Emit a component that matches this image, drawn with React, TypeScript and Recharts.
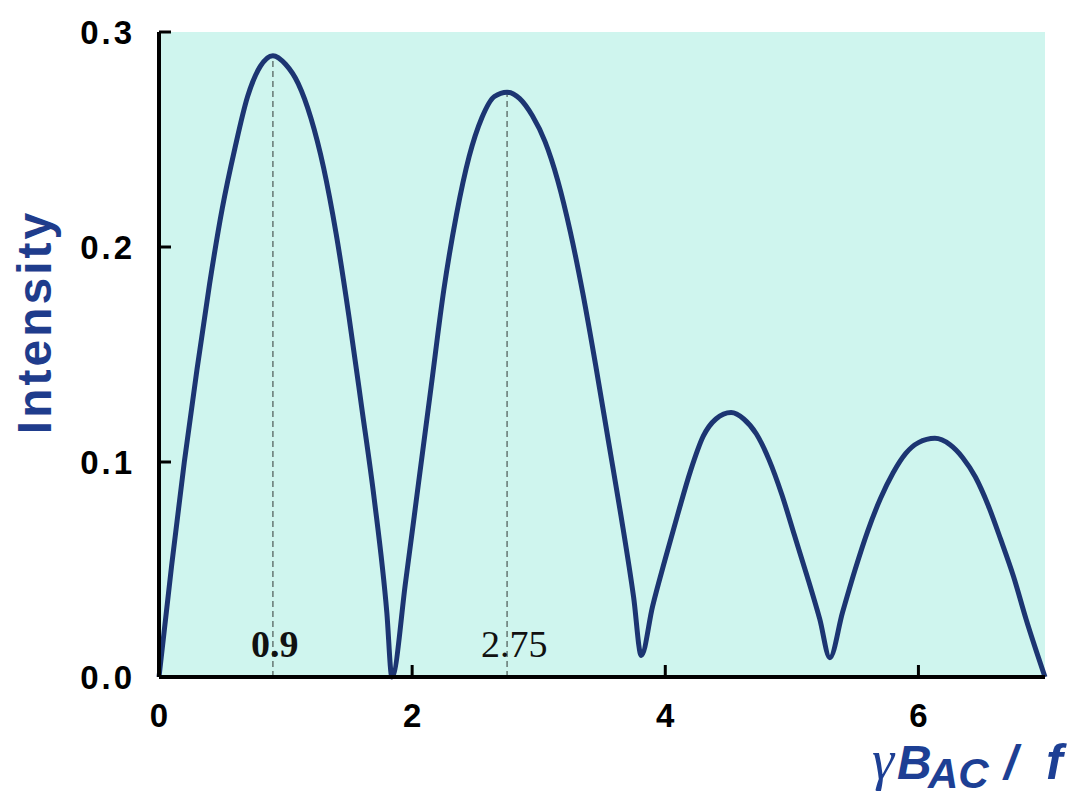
import { LineChart, Line, XAxis, YAxis, CartesianGrid, ReferenceLine, Label } from 'recharts';

// intensity vs. normalised drive amplitude
const fieldValues = [
  0, 0.1, 0.2, 0.3, 0.4, 0.5, 0.6, 0.7, 0.8, 0.9, 1.0, 1.1, 1.2, 1.3, 1.4, 1.5, 1.6, 1.7, 1.8, 1.84,
  1.95, 2.05, 2.15, 2.25, 2.35, 2.45, 2.55, 2.65, 2.75, 2.85, 2.95, 3.05, 3.15, 3.25, 3.35, 3.45, 3.55, 3.65, 3.75, 3.81,
  3.9, 4.0, 4.1, 4.2, 4.3, 4.4, 4.52, 4.62, 4.72, 4.82, 4.92, 5.02, 5.12, 5.22, 5.3,
  5.4, 5.5, 5.6, 5.7, 5.8, 5.9, 6.0, 6.13, 6.25, 6.35, 6.45, 6.55, 6.65, 6.75, 6.85, 7.0,
];
const intensityValues = [
  0, 0.052, 0.1, 0.143, 0.183, 0.218, 0.246, 0.27, 0.284, 0.289, 0.285, 0.276, 0.26, 0.237, 0.206, 0.168, 0.126, 0.083, 0.03, 0.0,
  0.045, 0.09, 0.135, 0.18, 0.215, 0.242, 0.26, 0.27, 0.272, 0.269, 0.261, 0.249, 0.231, 0.207, 0.178, 0.145, 0.11, 0.075, 0.037, 0.01,
  0.033, 0.055, 0.076, 0.096, 0.112, 0.12, 0.123, 0.12, 0.113, 0.101, 0.085, 0.066, 0.047, 0.027, 0.009,
  0.03, 0.05, 0.068, 0.083, 0.095, 0.104, 0.109, 0.111, 0.108, 0.102, 0.093, 0.08, 0.064, 0.047, 0.027, 0.0,
];

const xTicks = [0, 2, 4, 6];
const yTicks = [0, 0.1, 0.2, 0.3];

// marked maxima
const peakPositions = [0.9, 2.75];
const peakHeights = [0.289, 0.272];
const peakLabels = ['0.9', '2.75'];
const peakLabelWeights = ['bold', 'normal'];
const peakLabelOffsets = [22, 26];

const data = fieldValues.map((x, i) => ({ x, y: intensityValues[i] }));

const LINE = '#1c3572';
const TITLE = '#1f3c8c';
const BG = '#cff5ee';
const SANS = '"Liberation Sans", Arial, sans-serif';
const SERIF = '"Liberation Serif", "Times New Roman", serif';

const TICK_GAP = 24;
const TICK_LEN = 12;

const YTick = (props: any) => {
  const { x, y, payload } = props;
  const ax = x + TICK_GAP;
  return (
    <g>
      <line x1={ax} x2={ax + TICK_LEN} y1={y} y2={y} stroke="#000" strokeWidth={3} />
      <text x={x} y={y} textAnchor="end" dominantBaseline="central" fontFamily={SANS} fontWeight="bold" fontSize={33} letterSpacing={3} fill="#000">
        {payload.value.toFixed(1)}
      </text>
    </g>
  );
};

const XTick = (props: any) => {
  const { x, y, payload } = props;
  const ay = y - TICK_GAP;
  return (
    <g>
      {payload.value !== 0 && <line x1={x} x2={x} y1={ay} y2={ay - TICK_LEN} stroke="#000" strokeWidth={3} />}
      <text x={x} y={y + 26} textAnchor="middle" fontFamily={SANS} fontWeight="bold" fontSize={33} fill="#000">
        {payload.value}
      </text>
    </g>
  );
};

export default function App() {
  return (
    <div style={{ position: 'absolute', left: 0, top: 0, background: '#fff' }}>
      <LineChart width={1083} height={798} data={data} margin={{ top: 32, right: 38, left: 0, bottom: 0 }}>
        <CartesianGrid fill={BG} horizontal={false} vertical={false} />
        <XAxis
          dataKey="x"
          type="number"
          domain={[0, 7]}
          ticks={xTicks}
          height={121}
          tickSize={0}
          tickMargin={TICK_GAP}
          tick={<XTick />}
          axisLine={{ stroke: '#000', strokeWidth: 4 }}
          tickLine={false}
        >
          <Label
            content={() => (
              <text y={779} fill="#1d3f94" fontFamily={SANS} fontWeight="bold" fontStyle="italic" fontSize={48}>
                <tspan x={872} fontFamily={SERIF} fontWeight="normal" fontSize={56}>γ</tspan>
                <tspan x={897}>B</tspan>
                <tspan x={928} fontSize={42} dy={9}>AC</tspan>
                <tspan x={1004} dy={-9}>/</tspan>
                <tspan x={1046} fontSize={50}>f</tspan>
              </text>
            )}
          />
        </XAxis>
        <YAxis
          type="number"
          domain={[0, 0.3]}
          ticks={yTicks}
          width={159}
          tickSize={0}
          tickMargin={TICK_GAP}
          tick={<YTick />}
          axisLine={{ stroke: '#000', strokeWidth: 4 }}
          tickLine={false}
        >
          <Label
            content={() => (
              <text
                x={34}
                y={322}
                transform="rotate(-90, 34, 322)"
                textAnchor="middle"
                dominantBaseline="central"
                fill={TITLE}
                fontFamily={SANS}
                fontWeight="bold"
                fontSize={48}
                letterSpacing={3}
              >
                Intensity
              </text>
            )}
          />
        </YAxis>
        {peakPositions.map((px, i) => (
          <ReferenceLine
            key={px}
            segment={[{ x: px, y: 0 }, { x: px, y: peakHeights[i] }]}
            stroke="#4a5753"
            strokeWidth={1.2}
            strokeDasharray="6 4"
            label={(p: any) => {
              const vb = p.viewBox || {};
              return (
                <text
                  x={vb.x - peakLabelOffsets[i]}
                  y={vb.y + vb.height - 20}
                  fontFamily={SERIF}
                  fontWeight={peakLabelWeights[i]}
                  fontSize={38}
                  fill="#111"
                >
                  {peakLabels[i]}
                </text>
              );
            }}
          />
        ))}
        <Line type="monotone" dataKey="y" stroke={LINE} strokeWidth={5} dot={false} isAnimationActive={false} />
      </LineChart>
    </div>
  );
}
